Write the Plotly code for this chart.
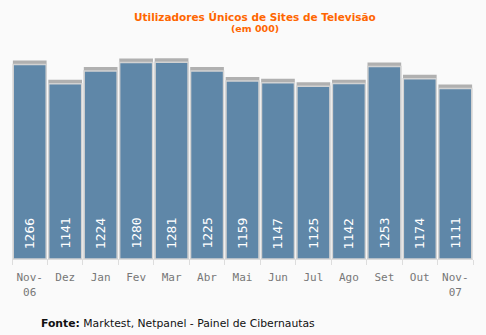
import plotly.graph_objects as go

categories = ["Nov-<br>06", "Dez", "Jan", "Fev", "Mar", "Abr", "Mai", "Jun", "Jul", "Ago", "Set", "Out", "Nov-<br>07"]
values = [1266, 1141, 1224, 1280, 1281, 1225, 1159, 1147, 1125, 1142, 1253, 1174, 1111]
title_text = "Utilizadores Únicos de Sites de Televisão"
subtitle_text = "(em 000)"
source_text = "<b>Fonte:</b> Marktest, Netpanel - Painel de Cibernautas"

SHADOW = 26
BAR = "#5F87A8"
BG = "#fafafa"

W, H = 486, 335
pl, pr, pt, pb = 12, 13, 44, 76
pw, ph = W - pl - pr, H - pt - pb


def px(x):
    return (x - pl) / pw


def py(y):
    return (H - pb - y) / ph


fig = go.Figure()
fig.add_trace(go.Bar(
    x=categories, y=[v + SHADOW for v in values],
    marker=dict(color="#b0b0b0", line=dict(width=0)),
    width=0.95, hoverinfo="skip", showlegend=False,
))
fig.add_trace(go.Bar(
    x=categories, y=values,
    marker=dict(color=BAR, line=dict(color="#d2d2d2", width=1.5)),
    width=0.93, showlegend=False,
))

anns = []
for c, v in zip(categories, values):
    anns.append(dict(
        x=c, y=0, xref="x", yref="y", text=str(v), showarrow=False,
        textangle=-90, yanchor="bottom", yshift=8,
        font=dict(family="DejaVu Sans Mono", size=13, color="white"),
    ))

anns.append(dict(x=px(255), y=py(17), xref="paper", yref="paper", text="<b>" + title_text + "</b>",
                 showarrow=False, xanchor="center", yanchor="middle",
                 font=dict(family="DejaVu Sans", size=10.5, color="#FF6600")))
anns.append(dict(x=px(255), y=py(28.5), xref="paper", yref="paper", text="<b>" + subtitle_text + "</b>",
                 showarrow=False, xanchor="center", yanchor="middle",
                 font=dict(family="DejaVu Sans", size=9.5, color="#FF6600")))
anns.append(dict(x=px(39), y=py(323), xref="paper", yref="paper", text=source_text,
                 showarrow=False, xanchor="left", yanchor="middle",
                 font=dict(family="DejaVu Sans", size=10.8, color="#111111")))

fig.update_layout(
    width=W, height=H,
    margin=dict(l=pl, r=pr, t=pt, b=pb),
    paper_bgcolor=BG, plot_bgcolor=BG,
    barmode="overlay",
    annotations=anns,
)

fig.update_xaxes(
    type="category", showline=True, linecolor="#dddddd", linewidth=1,
    ticks="outside", tickson="boundaries", ticklen=5, tickcolor="#dddddd",
    tickangle=0, ticklabelstandoff=8,
    tickfont=dict(family="DejaVu Sans Mono", size=11, color="#777777"),
    showgrid=False, zeroline=False,
)
fig.update_yaxes(range=[0, 1400], visible=False, showgrid=False, zeroline=False)

fig.write_html("out.html")
